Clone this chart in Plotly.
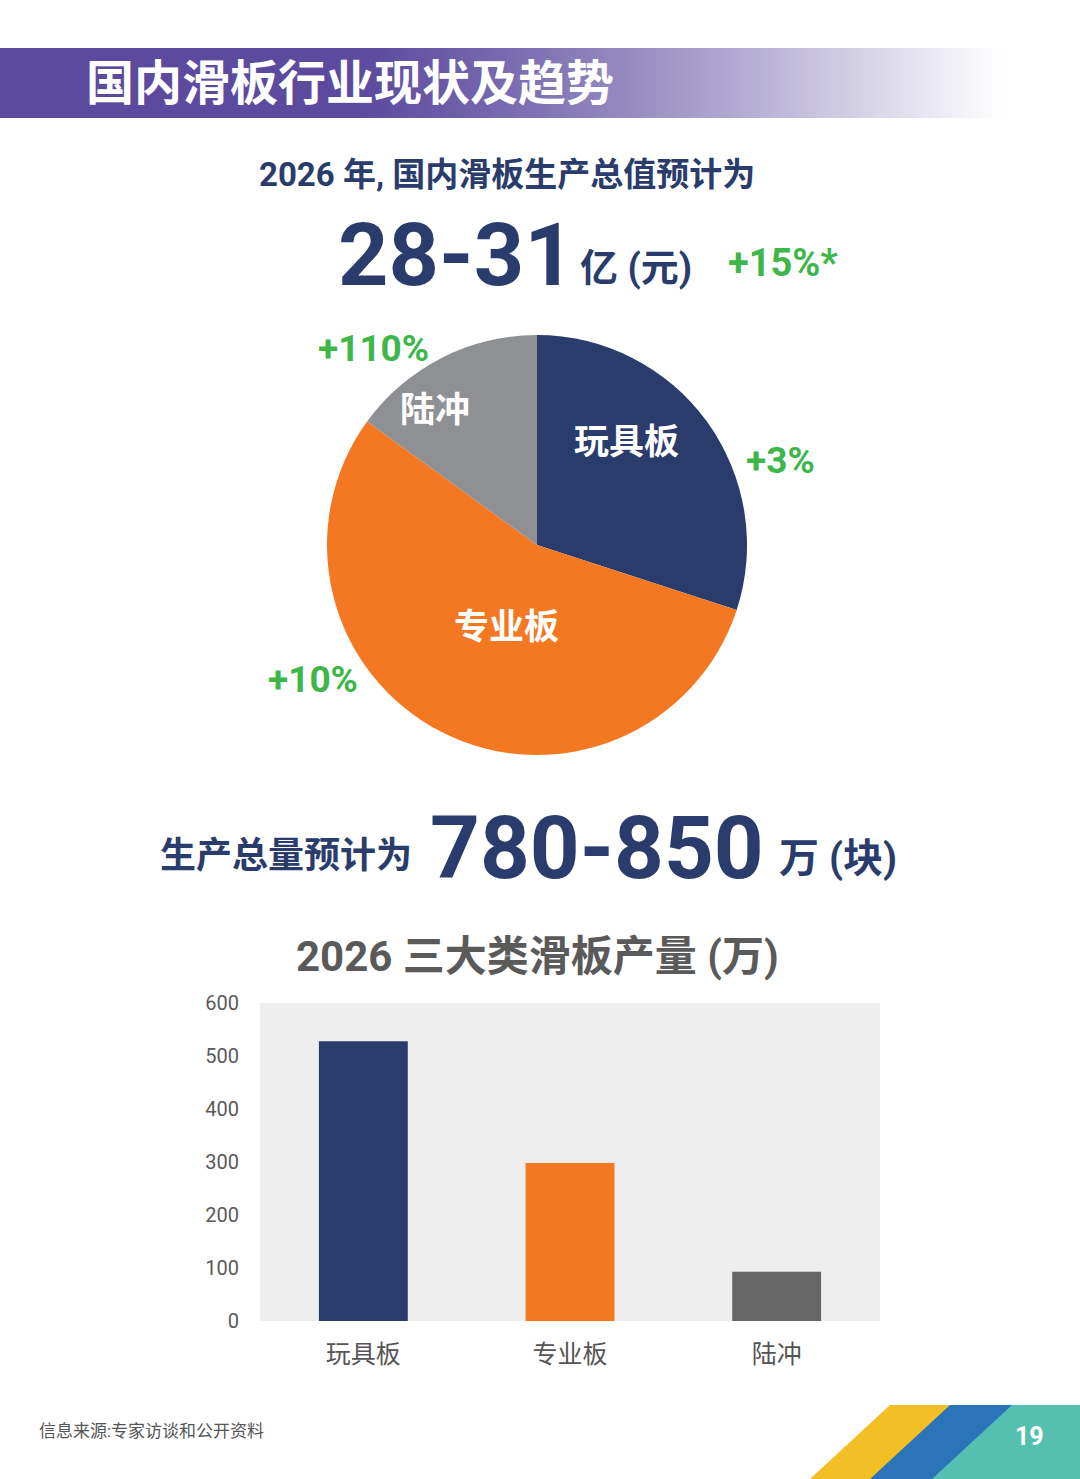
import plotly.graph_objects as go

W, H = 1080, 1479

# data
categories = ["玩具板", "专业板", "陆冲"]
value_share = [30, 55, 15]          # pie share of output value (%)
growth = ["+3%", "+10%", "+110%"]    # growth labels next to slices
output_wan = [528, 298, 93]         # 2026 production (万)
y_ticks = [0, 100, 200, 300, 400, 500, 600]

navy = "#2a3c6c"
orange = "#f47821"
pie_gray = "#8e9094"
bar_gray = "#666666"
green = "#3db64a"
text_gray = "#5a5a5a"
cjk = "Roboto, Noto Sans CJK SC, sans-serif"


def px(x):
    return x / W


def py(y):
    return 1 - y / H


fig = go.Figure()

fig.add_trace(go.Pie(
    labels=categories,
    values=value_share,
    sort=False,
    direction="clockwise",
    rotation=0,
    marker=dict(colors=[navy, orange, pie_gray], line=dict(width=0)),
    textinfo="none",
    hoverinfo="label+percent",
    showlegend=False,
    domain=dict(x=[px(327), px(747)], y=[py(755), py(335)]),
))

fig.add_trace(go.Bar(
    x=categories,
    y=output_wan,
    marker=dict(color=[navy, orange, bar_gray], line=dict(width=0)),
    width=0.43,
    showlegend=False,
    hoverinfo="x+y",
))

shapes = []
# header gradient band (deep purple fading to white)
c0 = (91, 74, 158)
shapes.append(dict(type="rect", xref="paper", yref="paper",
                   x0=0, x1=px(352), y0=py(118), y1=py(48),
                   fillcolor="rgb(%d,%d,%d)" % c0, line=dict(width=0), layer="below"))
steps = 130
g0, g1 = 350, 1002
for i in range(steps):
    xa = g0 + (g1 - g0) * i / steps
    xb = g0 + (g1 - g0) * (i + 1) / steps
    xm = (xa + xb) / 2
    t = ((xm - g0) / (g1 - g0)) ** 1.2
    col = tuple(int(round(c + (255 - c) * t)) for c in c0)
    shapes.append(dict(type="rect", xref="paper", yref="paper",
                       x0=px(xa), x1=px(xb + 1.5), y0=py(118), y1=py(48),
                       fillcolor="rgb(%d,%d,%d)" % col, line=dict(width=0), layer="below"))

# footer stripes
def para(xt, xb, w, color):
    return dict(type="path", xref="paper", yref="paper",
                path="M %f %f L %f %f L %f %f L %f %f Z" % (
                    px(xt), py(1405), px(xt + w), py(1405),
                    px(xb + w), py(1479), px(xb), py(1479)),
                fillcolor=color, line=dict(width=0))

shapes.append(para(890, 810, 70, "#f3bf26"))
shapes.append(para(950, 870, 70, "#2a74b9"))
shapes.append(dict(type="path", xref="paper", yref="paper",
                   path="M %f %f L %f %f L %f %f L %f %f Z" % (
                       px(1012), py(1405), px(1080), py(1405),
                       px(1080), py(1479), px(932), py(1479)),
                   fillcolor="#55c0b0", line=dict(width=0)))


def ann(text, x, y, size, color, xanchor="center", yanchor="middle", bold=True):
    return dict(text=("<b>%s</b>" % text) if bold else text,
                x=px(x), y=py(y), xref="paper", yref="paper",
                xanchor=xanchor, yanchor=yanchor, showarrow=False,
                font=dict(family=cjk, size=size, color=color))


annotations = [
    ann("国内滑板行业现状及趋势", 84, 84, 48, "white", xanchor="left"),
    ann("2026 年, 国内滑板生产总值预计为", 507, 174, 33, navy),
    ann("28-31", 336, 254, 88, navy, xanchor="left"),
    ann("亿 (元)", 578, 268, 38, navy, xanchor="left"),
    ann("+15%*", 726, 263, 38, green, xanchor="left"),
    # pie labels
    ann(categories[2], 435, 410, 35, "white"),
    ann(categories[0], 626, 442, 35, "white"),
    ann(categories[1], 506, 628, 35, "white"),
    ann(growth[2], 373, 348, 37, green),
    ann(growth[0], 780, 460, 37, green),
    ann(growth[1], 313, 679, 37, green),
    # production total
    ann("生产总量预计为", 158, 856, 36, navy, xanchor="left"),
    ann("780-850", 428, 848, 87, navy, xanchor="left"),
    ann("万 (块)", 777, 858, 40, navy, xanchor="left"),
    ann("2026 三大类滑板产量 (万)", 537, 956, 42, text_gray),
    # footer
    ann("信息来源:专家访谈和公开资料", 37, 1431, 17, "#555555", xanchor="left", bold=False),
    ann("19", 1029, 1436, 25, "white"),
]

fig.update_layout(
    width=W, height=H,
    margin=dict(l=0, r=0, t=0, b=0),
    paper_bgcolor="white",
    plot_bgcolor="#eeeeee",
    shapes=shapes,
    annotations=annotations,
    xaxis=dict(domain=[px(260), px(880)], showgrid=False, zeroline=False,
               ticks="", showline=False, fixedrange=True, automargin=False,
               tickfont=dict(family=cjk, size=25, color="#555555"),
               ticklabelstandoff=16),
    yaxis=dict(domain=[py(1321), py(1003)], range=[0, 600],
               tickvals=y_ticks, showgrid=False, zeroline=False,
               ticks="", showline=False, fixedrange=True, automargin=False,
               tickfont=dict(family="Roboto, sans-serif", size=20, color="#595959"),
               ticklabelstandoff=20),
)

fig.write_html("out.html", config={"displayModeBar": False},
               post_script="document.body.style.margin='0';")
